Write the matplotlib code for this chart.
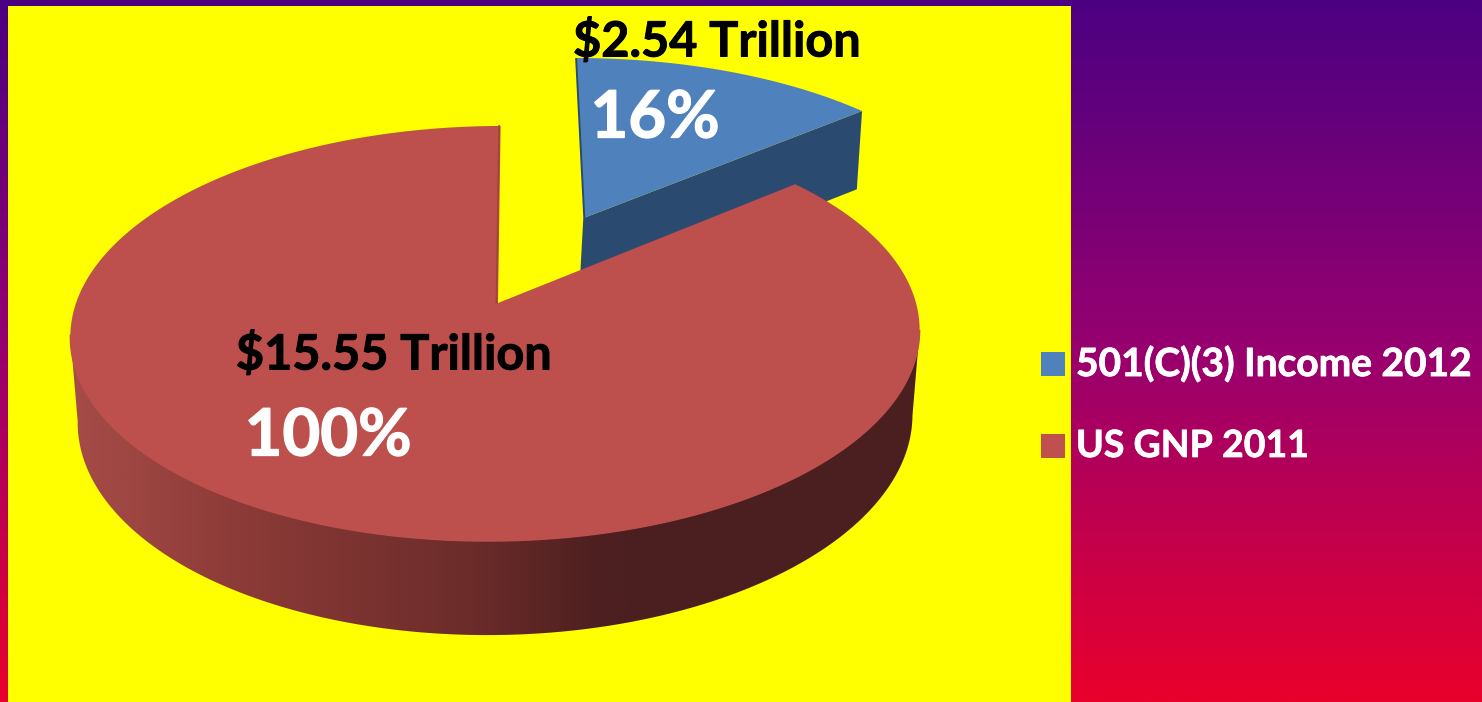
import numpy as np
import matplotlib
matplotlib.use('Agg')
import matplotlib.pyplot as plt
import matplotlib.patheffects as pe
from matplotlib.colors import LinearSegmentedColormap
from matplotlib.patches import Polygon, Rectangle

# data
labels = ['501(C)(3) Income 2012', 'US GNP 2011']
values = [2.54, 15.55]
money_labels = ['$2.54 Trillion', '$15.55 Trillion']
pct_labels = ['16%', '100%']

plt.rcParams['font.family'] = ['Lato', 'DejaVu Sans']

BLUE = '#4f81bd'
BLUE_SIDE = '#2b4a6f'
RED = '#bd4f4c'
YELLOW = '#ffff00'


# perspective projection of the pie: u right, v away, d depth of the side wall
def project(u, v, d=0.0):
    w = 1 + 0.147 * v + 0.017 * d + 0.006 * u
    x = 498 + (420 * u + 3 * v) / w
    y = (303 - 158.5 * v + 91 * d) / w
    return x, y


def rim(theta, off_u=0.0, off_v=0.0, d=0.0, r=1.0):
    return project(off_u + r * np.sin(theta), off_v + r * np.cos(theta), d)


def label(x, y, s, color, size, ha='center'):
    t = ax.text(x, y, s, color=color, fontsize=size, fontweight='bold', ha=ha, va='center', zorder=8)
    t.set_path_effects([pe.withStroke(linewidth=size * 0.02, foreground=color)])


fig = plt.figure(figsize=(14.82, 7.02), dpi=100)
ax = fig.add_axes([0, 0, 1, 1])
ax.axis('off')

# background
bg = LinearSegmentedColormap.from_list('bg', ['#4b0082', '#98006f', '#e9002c'])
ax.imshow(np.linspace(0, 1, 256).reshape(-1, 1), cmap=bg, extent=(0, 1482, 702, 0), aspect='auto', zorder=0)
ax.add_patch(Rectangle((8, 6), 1063, 696, color=YELLOW, lw=0, zorder=1))

# angles come from the values
split = 2 * np.pi * values[0] / sum(values)
off_u, off_v = 0.216, 0.446

# blue slice
th = np.linspace(0, split, 80)
apex = project(off_u, off_v)
apex_b = project(off_u, off_v, 1)
apex_b = (apex_b[0] - 3, apex_b[1])
c_top = rim(split, off_u, off_v, 0, 1.02)
c_bot = rim(split, off_u, off_v, 1, 1.02)
ax.add_patch(Polygon([apex, c_top, (c_bot[0], c_bot[1] + 3), apex_b], color=BLUE_SIDE, lw=0, zorder=2))
xb, yb = rim(th, off_u, off_v, 0, 1.02)
ax.add_patch(Polygon(np.vstack([[apex], np.column_stack([xb, yb])]), color=BLUE, lw=0, zorder=3))
ax.plot([xb[0], apex[0], apex_b[0]], [yb[0] + 1, apex[1], apex_b[1]], color=BLUE_SIDE, lw=1.4, zorder=3)

# red slice side wall, shaded left to right and clipped to the visible band
wall = LinearSegmentedColormap.from_list('wall', [(0, '#a54b47'), (0.3, '#8b3a37'), (0.7, '#6b2c2a'), (0.93, '#4e1f20'), (1, '#4b1f20')])
th = np.linspace(split, 2 * np.pi, 800)
xt, yt = rim(th)
# only the front part, from one silhouette edge to the other, so the band does not fold over
front = np.cos(th) < -0.14
band = np.vstack([np.column_stack(rim(th[front])), np.column_stack(rim(th[front], d=1))[::-1]])
band_patch = Polygon(band, closed=True, transform=ax.transData, fc='none', lw=0)
ax.add_patch(band_patch)
im = ax.imshow(np.linspace(0, 1, 512).reshape(1, -1), cmap=wall, extent=(80, 640, 702, 0), aspect='auto', zorder=4)
im.set_clip_path(band_patch)
# the shade stays flat past the ends of the ramp
for x0, x1, col in [(0, 80, wall(0.0)), (640, 1071, wall(1.0))]:
    r = ax.add_patch(Rectangle((x0, 0), x1 - x0, 702, color=col, lw=0, zorder=4))
    r.set_clip_path(band_patch)

# red slice top, the rim line hides the seam with the wall
apex = project(0, 0)
ax.add_patch(Polygon(np.vstack([[apex], np.column_stack([xt, yt])]), color=RED, lw=0, zorder=5))
ax.plot(xt[front], yt[front], color=RED, lw=1.0, zorder=5)
ax.plot([apex[0] - 1.5, xt[-1] - 1.5], [apex[1], yt[-1]], color='#a04340', lw=1.2, zorder=6)

ax.set_xlim(0, 1482)
ax.set_ylim(702, 0)

# text on the chart
label(717, 41, money_labels[0], 'black', 35)
label(655, 119, pct_labels[0], 'white', 47)
label(394, 354, money_labels[1], 'black', 35)
label(328, 437, pct_labels[1], 'white', 47)

# legend
for y, col, name, size in zip([352, 434], [BLUE, '#c0504d'], labels, [28, 27]):
    ax.add_patch(Rectangle((1041, y), 24, 24, color=col, lw=0, zorder=7))
    label(1076, y + 12, name, 'white', size, ha='left')

fig.savefig('out.png', dpi=100)
